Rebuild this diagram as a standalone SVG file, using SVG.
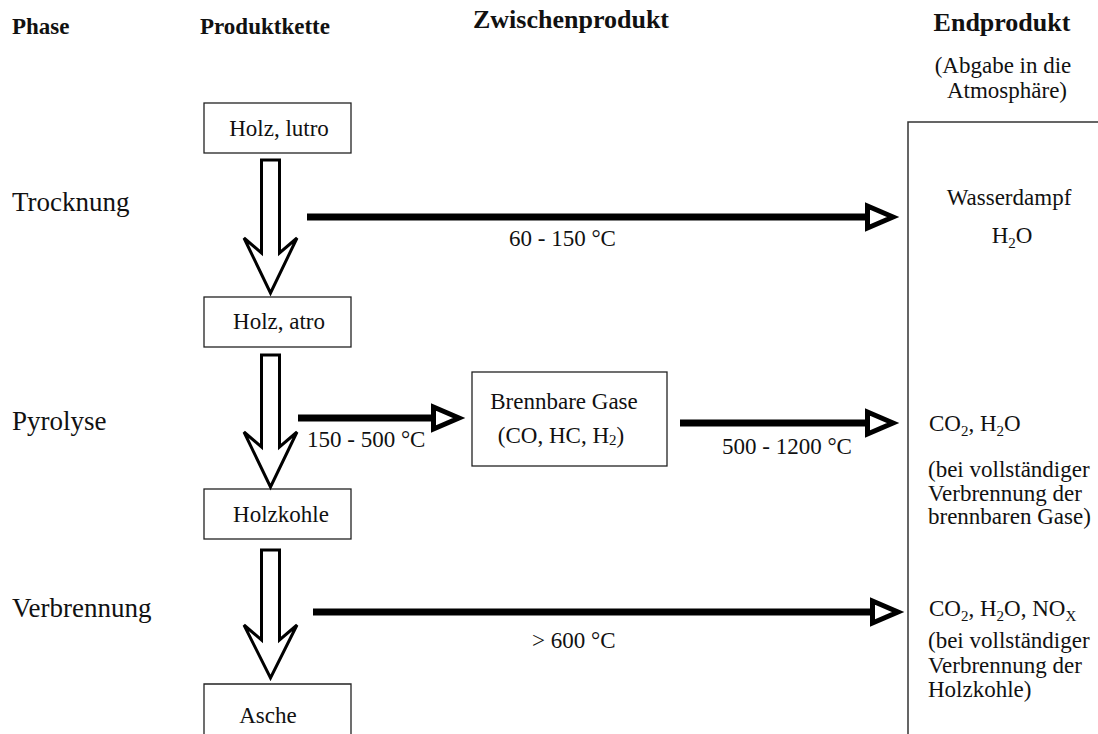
<svg xmlns="http://www.w3.org/2000/svg" width="1098" height="734" viewBox="0 0 1098 734">
<style>
text{font-family:"Liberation Serif","Times New Roman",serif;fill:#111;font-size:23px}
.h{font-weight:bold;font-size:23px}
.hb{font-weight:bold;font-size:26px}
.ph{font-size:27px}
.box{fill:#fff;stroke:#222;stroke-width:1.3}
.hol{fill:#fff;stroke:#000;stroke-width:3;stroke-linejoin:miter}
.ln{stroke:#000;stroke-width:7;fill:none;marker-end:url(#ah)}
.sub{font-size:15px}
</style>
<defs>
<marker id="ah" markerUnits="userSpaceOnUse" markerWidth="40" markerHeight="30" refX="0" refY="15" orient="auto" overflow="visible">
<path d="M2.5,4 L28,15 L2.5,26 Z" fill="#fff" stroke="#000" stroke-width="5" stroke-linejoin="miter"/>
</marker>
</defs>
<rect width="1098" height="734" fill="#fff"/>

<g id="headers">
<text class="h" x="12" y="34">Phase</text>
<text class="h" x="200" y="34">Produktkette</text>
<text class="hb" x="473" y="28">Zwischenprodukt</text>
<text class="hb" x="1002" y="31" text-anchor="middle">Endprodukt</text>
<text x="1003" y="73" text-anchor="middle">(Abgabe in die</text>
<text x="1007" y="98" text-anchor="middle">Atmosphäre)</text>
</g>

<g id="phases">
<text class="ph" x="12" y="211">Trocknung</text>
<text class="ph" x="12" y="430">Pyrolyse</text>
<text class="ph" x="12" y="617">Verbrennung</text>
</g>

<g id="node-holz-lutro">
<rect class="box" x="204" y="103" width="147" height="50"/>
<text x="279" y="136" text-anchor="middle">Holz, lutro</text>
</g>
<g id="node-holz-atro">
<rect class="box" x="204" y="297" width="147" height="50"/>
<text x="279" y="329" text-anchor="middle">Holz, atro</text>
</g>
<g id="node-holzkohle">
<rect class="box" x="204" y="489" width="147" height="50"/>
<text x="281" y="522" text-anchor="middle">Holzkohle</text>
</g>
<g id="node-asche">
<path class="box" d="M204,740 V684 H351 V740"/>
<text x="268" y="723" text-anchor="middle">Asche</text>
</g>
<g id="node-brennbare-gase">
<rect class="box" x="472" y="372" width="195" height="94"/>
<text x="564" y="409" text-anchor="middle">Brennbare Gase</text>
<text x="561" y="443" text-anchor="middle">(CO, HC, H<tspan class="sub" dy="2">2</tspan><tspan dy="-2">)</tspan></text>
</g>
<g id="node-endprodukt">
<path d="M908,740 V122 H1100" fill="none" stroke="#333" stroke-width="1.5"/>
<text x="1009" y="205" text-anchor="middle">Wasserdampf</text>
<text x="1012" y="243" text-anchor="middle">H<tspan class="sub" dy="5">2</tspan><tspan dy="-5">O</tspan></text>
<text x="929" y="431">CO<tspan class="sub" dy="5">2</tspan><tspan dy="-5">, H</tspan><tspan class="sub" dy="5">2</tspan><tspan dy="-5">O</tspan></text>
<text x="928" y="477">(bei vollständiger</text>
<text x="928" y="501">Verbrennung der</text>
<text x="928" y="524">brennbaren Gase)</text>
<text x="929" y="616">CO<tspan class="sub" dy="5">2</tspan><tspan dy="-5">, H</tspan><tspan class="sub" dy="5">2</tspan><tspan dy="-5">O, NO</tspan><tspan class="sub" dy="5">X</tspan></text>
<text x="928" y="648">(bei vollständiger</text>
<text x="928" y="673">Verbrennung der</text>
<text x="928" y="697">Holzkohle)</text>
</g>

<g id="connectors">
<polygon class="hol" points="261.5,160 279.5,160 279.5,253 297,238 270.5,293 244,238 261.5,253"/>
<polygon class="hol" points="261.5,355 279.5,355 279.5,447 297,432 270.5,487 244,432 261.5,447"/>
<polygon class="hol" points="261.5,550 279.5,550 279.5,640 297,625 270.5,678 244,625 261.5,640"/>
<line class="ln" x1="307" y1="217" x2="865" y2="217"/>
<line class="ln" x1="298" y1="418" x2="431" y2="418"/>
<line class="ln" x1="680" y1="423" x2="865" y2="423"/>
<line class="ln" x1="313" y1="612" x2="870" y2="612"/>
<text x="509" y="246">60 - 150 °C</text>
<text x="307" y="447">150 - 500 °C</text>
<text x="722" y="454">500 - 1200 °C</text>
<text x="532" y="648">&gt; 600 °C</text>
</g>
</svg>
